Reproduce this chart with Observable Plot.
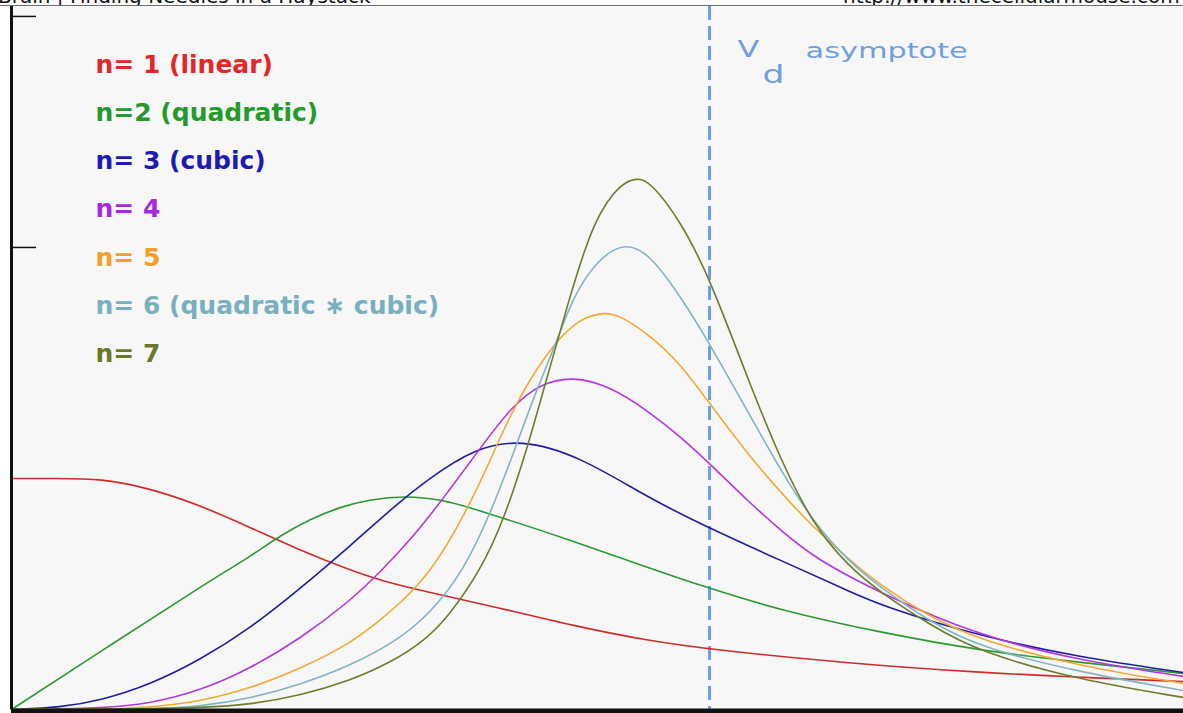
<!DOCTYPE html>
<html><head><meta charset="utf-8">
<script src="https://cdn.jsdelivr.net/npm/d3@7"></script>
<script src="https://cdn.jsdelivr.net/npm/@observablehq/plot@0.6"></script>
<style>
body{margin:0;background:#fff;width:1183px;height:713px;overflow:hidden;font-family:"DejaVu Sans",sans-serif}
#hdr{position:relative;height:5px;border-bottom:1px solid #6e6e6e;overflow:hidden}
#hdr span{position:absolute;top:-14px;font-size:20px;line-height:20px;white-space:nowrap;color:#111}
svg{display:block}
</style></head><body>
<div id="hdr"><span style="left:-2px">Brain | Finding Needles in a Haystack</span><span style="left:843px">http://www.thecellularmouse.com</span></div>
<div id="chart"></div>
<script>
// x: velocity relative to Vd (Vd = 1); y: response, n=1 plateau = 1
const vd = 1;
const yTicks = [2, 3];
const labels = ["n= 1 (linear)", "n=2 (quadratic)", "n= 3 (cubic)", "n= 4", "n= 5", "n= 6 (quadratic \u2217 cubic)", "n= 7"];
const lineColors = ["#d22a2a", "#2c9a32", "#1e1ea2", "#b436e0", "#f4a832", "#80b4c4", "#6c7e2a"];
const textColors = ["#e02828", "#249a2c", "#1c1cb4", "#a828e0", "#f0a028", "#78b0c0", "#687a24"];
const asymptoteColor = "#6f9fe0";

const n1 = [[0,1],[0.064,1],[0.128,1],[0.199,0.957],[0.271,0.883],[0.342,0.788],[0.414,0.688],[0.486,0.602],[0.529,0.558],[0.600,0.506],[0.672,0.459],[0.815,0.355],[0.911,0.299],[1.0,0.260],[1.202,0.199],[1.388,0.160],[1.532,0.139],[1.679,0.121]];
const n2 = [[0,0],[0.152,0.299],[0.271,0.532],[0.342,0.662],[0.385,0.753],[0.428,0.825],[0.471,0.877],[0.514,0.910],[0.564,0.925],[0.615,0.910],[0.672,0.861],[0.815,0.719],[0.911,0.615],[1.0,0.524],[1.102,0.429],[1.245,0.333],[1.388,0.255],[1.532,0.203],[1.679,0.156]];
const n3 = [[0,0],[0.070,0.009],[0.128,0.039],[0.199,0.108],[0.271,0.216],[0.342,0.351],[0.414,0.524],[0.486,0.710],[0.553,0.892],[0.600,1.004],[0.662,1.128],[0.729,1.172],[0.815,1.095],[0.911,0.918],[1.0,0.784],[1.102,0.645],[1.198,0.515],[1.245,0.450],[1.388,0.316],[1.532,0.225],[1.679,0.160]];
const n4 = [[0,0],[0.128,0.004],[0.199,0.026],[0.271,0.082],[0.342,0.177],[0.414,0.307],[0.486,0.472],[0.529,0.597],[0.576,0.749],[0.625,0.939],[0.672,1.134],[0.719,1.320],[0.758,1.410],[0.804,1.443],[0.858,1.398],[0.911,1.294],[0.958,1.182],[1.0,1.065],[1.054,0.905],[1.102,0.775],[1.149,0.658],[1.245,0.502],[1.388,0.316],[1.532,0.212],[1.679,0.143]];
const n5 = [[0,0],[0.128,0],[0.199,0.009],[0.271,0.035],[0.342,0.091],[0.414,0.177],[0.486,0.286],[0.529,0.390],[0.553,0.450],[0.600,0.589],[0.648,0.835],[0.686,1.078],[0.719,1.307],[0.762,1.524],[0.805,1.680],[0.847,1.722],[0.872,1.706],[0.915,1.619],[0.958,1.498],[1.0,1.325],[1.054,1.108],[1.102,0.939],[1.149,0.788],[1.198,0.654],[1.245,0.537],[1.317,0.398],[1.388,0.299],[1.532,0.186],[1.679,0.113]];
const n6 = [[0,0],[0.199,0],[0.271,0.013],[0.342,0.048],[0.414,0.108],[0.486,0.190],[0.553,0.299],[0.600,0.416],[0.648,0.602],[0.686,0.848],[0.719,1.108],[0.748,1.351],[0.782,1.600],[0.805,1.790],[0.840,1.950],[0.880,2.025],[0.915,1.968],[0.958,1.790],[1.0,1.584],[1.054,1.294],[1.102,1.035],[1.149,0.810],[1.198,0.645],[1.245,0.528],[1.317,0.377],[1.388,0.268],[1.532,0.160],[1.679,0.082]];
const n7 = [[0,0],[0.271,0.004],[0.342,0.022],[0.414,0.061],[0.486,0.126],[0.543,0.203],[0.590,0.294],[0.625,0.398],[0.672,0.602],[0.705,0.818],[0.739,1.130],[0.768,1.446],[0.797,1.758],[0.825,2.030],[0.844,2.155],[0.862,2.235],[0.880,2.285],[0.897,2.300],[0.915,2.285],[0.958,2.117],[1.0,1.870],[1.054,1.437],[1.102,1.078],[1.149,0.797],[1.198,0.623],[1.245,0.506],[1.317,0.364],[1.388,0.247],[1.532,0.126],[1.679,0.052]];
const series = [n1, n2, n3, n4, n5, n6, n7];

const W = 1183, H = 707, mL = 11, mB = 4;
const tickLen = 25;

const lineMarks = series.map((s, i) => Plot.line(s, {
  x: d => d[0], y: d => d[1], stroke: lineColors[i], strokeWidth: 1.6, curve: "basis"
}));
const legendMarks = labels.map((t, i) => Plot.text([t], {
  frameAnchor: "top-left", dx: 84, dy: 66 + i * 48.3, text: d => d,
  fill: textColors[i], fontSize: 25, fontWeight: "bold", fontFamily: "DejaVu Sans",
  textAnchor: "start", lineAnchor: "bottom"
}));

const chart = Plot.plot({
  width: W, height: H,
  marginLeft: mL, marginRight: 0, marginTop: 0, marginBottom: mB,
  x: {domain: [0, 1.679], axis: null},
  y: {domain: [0, 3.043], axis: null},
  style: {background: "#ffffff", overflow: "hidden"},
  marks: [
    Plot.frame({fill: "#f7f7f7", stroke: null}),
    Plot.ruleX([vd], {stroke: asymptoteColor, strokeWidth: 3, strokeDasharray: "14,6"}),
    ...lineMarks,
    Plot.tickY(yTicks, {y: d => d, stroke: "#111", strokeWidth: 1.5, insetRight: W - mL - tickLen}),
    Plot.ruleX([0], {stroke: "#111", strokeWidth: 3}),
    Plot.ruleY([0], {stroke: "#111", strokeWidth: 5, dy: 1.5}),
    ...legendMarks,
    Plot.text(["V"], {x: vd, frameAnchor: "top", dx: 28, dy: 50, text: d => d, fill: asymptoteColor, fontSize: 23, fontFamily: "DejaVu Sans", textAnchor: "start", lineAnchor: "bottom"}),
    Plot.text(["d"], {x: vd, frameAnchor: "top", dx: 53, dy: 76, text: d => d, fill: asymptoteColor, fontSize: 25, fontFamily: "DejaVu Sans", textAnchor: "start", lineAnchor: "bottom"}),
    Plot.text(["asymptote"], {x: vd, frameAnchor: "top", dx: 96, dy: 51, text: d => d, fill: asymptoteColor, fontSize: 22, fontFamily: "DejaVu Sans", textAnchor: "start", lineAnchor: "bottom"})
  ]
});
document.getElementById("chart").append(chart);

// horizontal stretch of the asymptote label glyphs, as in the reference
const stretch = 1.38;
chart.querySelectorAll("text").forEach(t => {
  if (["V", "d", "asymptote"].includes(t.textContent)) {
    const tr = t.getAttribute("transform");
    if (tr && tr.includes("translate")) t.setAttribute("transform", tr + ` scale(${stretch},1)`);
    else {
      const x = +t.getAttribute("x") || 0, y = +t.getAttribute("y") || 0;
      t.setAttribute("transform", `translate(${x},${y}) scale(${stretch},1) translate(${-x},${-y})`);
    }
  }
});
</script></body></html>
